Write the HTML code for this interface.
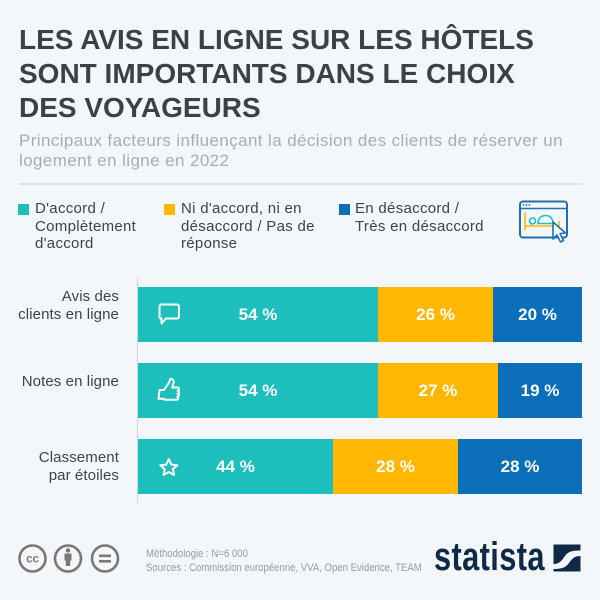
<!DOCTYPE html>
<html><head><meta charset="utf-8">
<style>
body{margin:0;width:600px;height:600px;background:#f4f7fa;position:relative;overflow:hidden;font-family:"Liberation Sans",sans-serif;}
.abs{position:absolute;white-space:nowrap;}
.title{left:19px;top:23px;font-size:28px;font-weight:bold;line-height:34px;color:#3d4145;}
.sub{left:19px;top:131px;font-size:17px;line-height:20px;color:#a9adb1;letter-spacing:0.4px;}
.leg{font-size:15px;line-height:17.5px;color:#3f4346;top:200px;letter-spacing:0.3px;}
.sq{position:absolute;width:11px;height:11px;top:204px;}
.cat{right:481px;text-align:right;font-size:15px;line-height:18px;color:#3f4346;letter-spacing:0.1px;}
.bar{position:absolute;left:138px;width:444px;height:55px;display:flex;}
.seg{height:100%;display:flex;align-items:center;justify-content:center;color:#fff;font-weight:bold;font-size:17px;padding-top:1px;box-sizing:border-box;}
.t{background:#1cbfbc;}.y{background:#ffb700;}.b{background:#0a6fb8;}
.foot{left:146px;font-size:11px;line-height:14px;color:#9a9a9a;transform:scaleX(0.87);transform-origin:left top;}
</style></head>
<body>
<div class="abs title">LES AVIS EN LIGNE SUR LES HÔTELS<br>SONT IMPORTANTS DANS LE CHOIX<br>DES VOYAGEURS</div>
<div class="abs sub">Principaux facteurs influençant la décision des clients de réserver un<br>logement en ligne en 2022</div>
<div class="abs" style="left:19px;top:183px;width:563px;height:2px;background:#dfe3e8;"></div>

<div class="sq t" style="left:18px;"></div>
<div class="abs leg" style="left:35px;">D'accord /<br>Complètement<br>d'accord</div>
<div class="sq y" style="left:164px;"></div>
<div class="abs leg" style="left:181px;">Ni d'accord, ni en<br>désaccord / Pas de<br>réponse</div>
<div class="sq b" style="left:339px;"></div>
<div class="abs leg" style="left:355px;">En désaccord /<br>Très en désaccord</div>

<div class="abs cat" style="top:288px;">Avis des<br>clients en ligne</div>
<div class="abs cat" style="top:372.5px;">Notes en ligne</div>
<div class="abs cat" style="top:448.5px;">Classement<br>par étoiles</div>

<div class="abs" style="left:136.5px;top:277px;width:1.5px;height:226px;background:#d3d7db;"></div>

<div class="bar" style="top:287px;">
  <div class="seg t" style="width:240px;">54 %</div>
  <div class="seg y" style="width:115px;">26 %</div>
  <div class="seg b" style="width:89px;">20 %</div>
</div>
<div class="bar" style="top:363px;">
  <div class="seg t" style="width:240px;">54 %</div>
  <div class="seg y" style="width:120px;">27 %</div>
  <div class="seg b" style="width:84px;">19 %</div>
</div>
<div class="bar" style="top:439px;">
  <div class="seg t" style="width:195px;">44 %</div>
  <div class="seg y" style="width:125px;">28 %</div>
  <div class="seg b" style="width:124px;">28 %</div>
</div>

<svg class="abs" style="left:0;top:0;" width="600" height="600" viewBox="0 0 600 600">
  <path d="M162,304.5 h15 a2,2 0 0 1 2,2 v10 a2,2 0 0 1 -2,2 h-11 l-4.5,5 v-5 h-1 a2,2 0 0 1 -1,-2 v-10 a2,2 0 0 1 2.5,-2 z" fill="none" stroke="#fff" stroke-width="2" stroke-linejoin="round"/>
  <path d="M159.5,390 h4.5 l5,-7.5 c1,-2 1,-3 1.2,-3.5 c2.5,-0.5 4,1.5 3.2,4.5 l-1.2,4 h5 c2.3,0 2.3,3.2 0.3,3.2 c2,0 2,3 0,3 c1.8,0 1.8,3 -0.3,3 c1.6,0.2 1.2,3 -0.8,3 h-11.2 l-2,-1 h-4.7 z" fill="none" stroke="#fff" stroke-width="2" stroke-linejoin="round"/>
  <polygon points="168.8,459 171.3,464.6 177.3,465.2 172.8,469.2 174.1,475 168.8,472 163.5,475 164.8,469.2 160.3,465.2 166.3,464.6" fill="none" stroke="#fff" stroke-width="2" stroke-linejoin="round"/>

  <rect x="520" y="201.5" width="47" height="36" rx="3" fill="none" stroke="#1f6fb5" stroke-width="2"/>
  <line x1="520" y1="208.5" x2="567" y2="208.5" stroke="#1f6fb5" stroke-width="1.5"/>
  <circle cx="523.5" cy="205" r="0.9" fill="#1f6fb5"/>
  <circle cx="526.5" cy="205" r="0.9" fill="#1f6fb5"/>
  <circle cx="529.5" cy="205" r="0.9" fill="#1f6fb5"/>
  <path d="M525,212.5 V230 M525,226 H559 M559,221 V230" fill="none" stroke="#ffb700" stroke-width="1.6"/>
  <circle cx="532.5" cy="221" r="3" fill="none" stroke="#1cbfbc" stroke-width="1.6"/>
  <path d="M538,223.5 c0,-6 4,-8 8,-8 c4,0 7,3 7,8 z" fill="none" stroke="#1cbfbc" stroke-width="1.6"/>
  <path d="M553,222 l0,17 l4,-4 l3.5,7 l3,-1.5 l-3.5,-7 l5.5,-0.5 z" fill="#fff" stroke="#1f6fb5" stroke-width="1.6" stroke-linejoin="round"/>

  <g stroke="#787878" fill="none" stroke-width="2.6">
    <circle cx="32.5" cy="558.5" r="13"/>
    <circle cx="68" cy="558.5" r="13"/>
    <circle cx="105" cy="558.5" r="13"/>
  </g>
  <text x="32.5" y="562.5" text-anchor="middle" font-family="Liberation Sans, sans-serif" font-weight="bold" font-size="11.5" fill="#787878">cc</text>
  <circle cx="68" cy="550.5" r="2.2" fill="#787878"/>
  <rect x="64.5" y="553.5" width="7" height="7" fill="#787878"/>
  <rect x="65.8" y="559" width="4.4" height="7" fill="#787878"/>
  <rect x="99" y="554.5" width="12" height="2.6" fill="#787878"/>
  <rect x="99" y="560" width="12" height="2.6" fill="#787878"/>

  <rect x="553.5" y="544.5" width="27" height="27" fill="#0f2a47"/>
  <path d="M553.5,564 C560,564 562,560 565,556 C568,552 571,550.5 580.5,550.5 V556 C574,556 572,559 569,563 C566,567 563,569 553.5,569 Z" fill="#f4f7fa"/>
</svg>

<div class="abs" style="left:434px;top:534px;font-size:40px;font-weight:bold;color:#0f2a47;line-height:46px;transform:scaleX(0.77);transform-origin:left top;letter-spacing:0.5px;">statista</div>

<div class="abs foot" style="top:547px;">Méthodologie : N=6 000</div>
<div class="abs foot" style="top:561px;">Sources : Commission européenne, VVA, Open Evidence, TEAM</div>
</body></html>
